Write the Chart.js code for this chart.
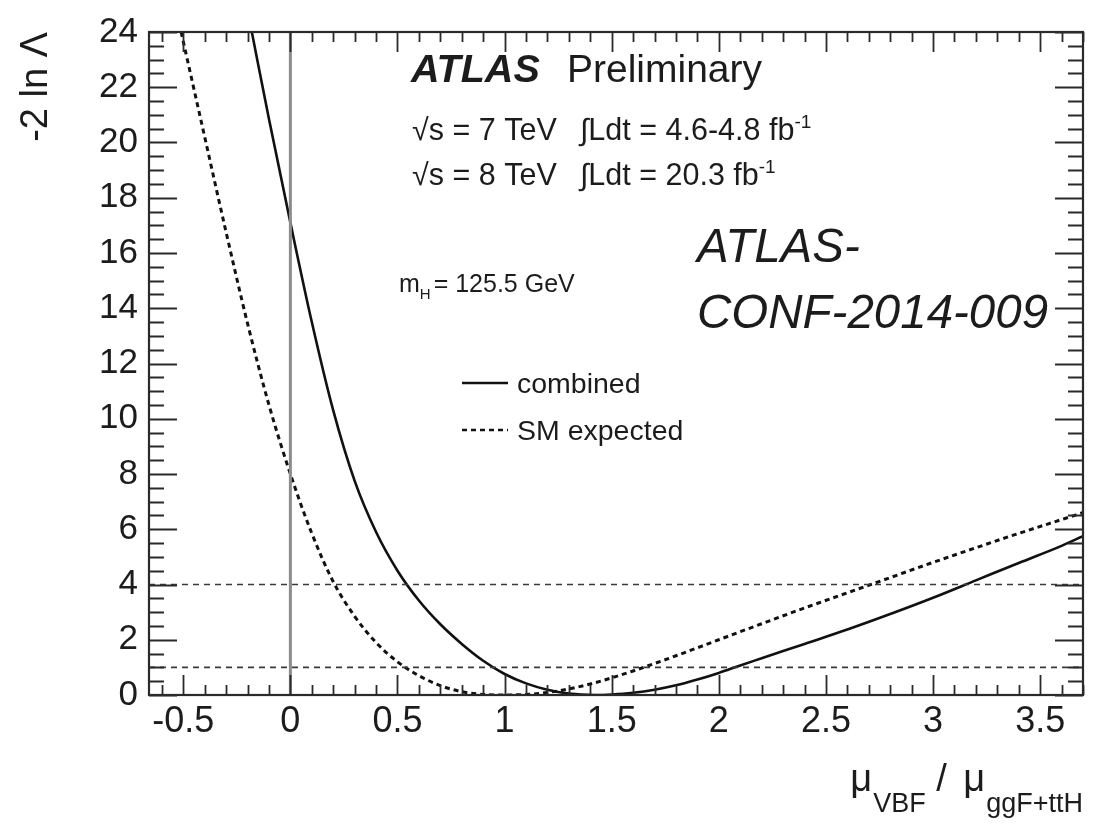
<!DOCTYPE html>
<html>
<head>
<meta charset="utf-8">
<title>mu_VBF / mu_ggF+ttH likelihood scan</title>
<script src="https://cdn.jsdelivr.net/npm/chart.js@4.4.1/dist/chart.umd.min.js"></script>
<style>
  html, body { margin: 0; padding: 0; background: #fff; }
  #wrap { width: 1093px; height: 840px; }
</style>
</head>
<body>
<div id="wrap"><canvas id="scan" width="1093" height="840"></canvas></div>
<script>
// observed (combined) scan of -2 ln Lambda vs mu_VBF / mu_ggF+ttH
var muObs  = [-0.18, -0.1, 0.0, 0.1, 0.2, 0.3, 0.4, 0.5, 0.6, 0.7, 0.8, 0.9, 1.0, 1.1, 1.2, 1.3, 1.42, 1.5, 1.6, 1.7, 1.8, 1.9, 2.0, 2.1, 2.2, 2.4, 2.6, 2.8, 3.0, 3.2, 3.4, 3.6, 3.7];
var nllObs = [24.0, 20.85, 17.1, 13.5, 10.3, 7.75, 5.9, 4.5, 3.42, 2.56, 1.85, 1.24, 0.76, 0.42, 0.19, 0.05, 0.0, 0.02, 0.08, 0.19, 0.35, 0.56, 0.8, 1.07, 1.33, 1.85, 2.37, 2.93, 3.52, 4.15, 4.78, 5.4, 5.75];

// SM expected scan
var muExp  = [-0.51, -0.4, -0.3, -0.2, -0.1, 0.0, 0.1, 0.2, 0.3, 0.4, 0.5, 0.6, 0.7, 0.8, 0.9, 1.0, 1.1, 1.2, 1.3, 1.4, 1.5, 1.6, 1.7, 1.8, 1.9, 2.0, 2.2, 2.4, 2.6, 2.8, 3.0, 3.2, 3.4, 3.6, 3.7];
var nllExp = [24.0, 20.2, 16.75, 13.45, 10.5, 8.0, 5.85, 4.1, 2.85, 1.9, 1.2, 0.7, 0.34, 0.12, 0.02, 0.0, 0.02, 0.09, 0.22, 0.4, 0.62, 0.87, 1.14, 1.42, 1.71, 2.0, 2.58, 3.15, 3.7, 4.25, 4.8, 5.33, 5.85, 6.35, 6.6];

// horizontal reference levels (1 and 2 sigma) and the mu = 0 marker
var refLevels = [1, 4];
var zeroLine = 0;

// axis ranges
var xRange = [-0.66, 3.7];
var yRange = [0, 24];

var FONT = '"Liberation Sans", Arial, Helvetica, sans-serif';
var INK = '#1c1c1c';

function toPoints(xs, ys) {
  return xs.map(function (x, i) { return { x: x, y: ys[i] }; });
}

var datasets = [
  {
    label: 'mu0',
    data: [{ x: zeroLine, y: yRange[0] }, { x: zeroLine, y: yRange[1] }],
    borderColor: '#8c8c8c', borderWidth: 3, pointRadius: 0, showLine: true
  }
];
refLevels.forEach(function (lvl) {
  datasets.push({
    label: 'level ' + lvl,
    data: [{ x: xRange[0], y: lvl }, { x: xRange[1], y: lvl }],
    borderColor: '#3a3a3a', borderWidth: 1.6, borderDash: [6, 5],
    pointRadius: 0, showLine: true
  });
});
datasets.push({
  label: 'SM expected',
  data: toPoints(muExp, nllExp),
  borderColor: '#111', borderWidth: 3, borderDash: [5, 4],
  pointRadius: 0, showLine: true, cubicInterpolationMode: 'monotone'
});
datasets.push({
  label: 'combined',
  data: toPoints(muObs, nllObs),
  borderColor: '#111', borderWidth: 2.6,
  pointRadius: 0, showLine: true, cubicInterpolationMode: 'monotone'
});

// draw a list of text pieces one after the other on a shared baseline
function drawRuns(ctx, x, y, runs) {
  runs.forEach(function (r) {
    ctx.font = (r.style || '') + ' ' + r.size + 'px ' + FONT;
    ctx.fillText(r.text, x, y + (r.dy || 0));
    x += ctx.measureText(r.text).width + (r.gap || 0);
  });
  return x;
}
function runsWidth(ctx, runs) {
  var w = 0;
  runs.forEach(function (r) {
    ctx.font = (r.style || '') + ' ' + r.size + 'px ' + FONT;
    w += ctx.measureText(r.text).width + (r.gap || 0);
  });
  return w;
}

// frame with inward ticks on all four sides
var framePlugin = {
  id: 'frameTicks',
  afterDatasetsDraw: function (chart) {
    var ctx = chart.ctx, a = chart.chartArea;
    var xs = chart.scales.x, ys = chart.scales.y;
    ctx.save();
    ctx.strokeStyle = '#2a2a2a';
    ctx.lineWidth = 1.8;
    var i, v, px, len;
    for (i = Math.ceil(xRange[0] * 10); i <= Math.floor(xRange[1] * 10); i++) {
      v = i / 10;
      px = Math.round(xs.getPixelForValue(v)) + 0.5;
      len = (i % 5 === 0) ? 20 : 10;
      ctx.beginPath();
      ctx.moveTo(px, a.bottom); ctx.lineTo(px, a.bottom - len);
      ctx.moveTo(px, a.top); ctx.lineTo(px, a.top + len);
      ctx.stroke();
    }
    for (i = yRange[0] * 2; i <= yRange[1] * 2; i++) {
      v = i / 2;
      px = Math.round(ys.getPixelForValue(v)) + 0.5;
      len = (i % 4 === 0) ? 28 : 15;
      ctx.beginPath();
      ctx.moveTo(a.left, px); ctx.lineTo(a.left + len, px);
      ctx.moveTo(a.right, px); ctx.lineTo(a.right - len, px);
      ctx.stroke();
    }
    ctx.lineWidth = 2.2;
    ctx.strokeRect(a.left, a.top, a.right - a.left, a.bottom - a.top);
    ctx.restore();
  }
};

// labels inside the frame, legend and the x axis title
var textPlugin = {
  id: 'plotText',
  afterDraw: function (chart) {
    var ctx = chart.ctx;
    ctx.save();
    ctx.fillStyle = INK;
    ctx.textAlign = 'left';
    ctx.textBaseline = 'alphabetic';

    drawRuns(ctx, 411, 82, [{ text: 'ATLAS', size: 39.5, style: 'italic bold' }]);
    drawRuns(ctx, 567, 82, [{ text: 'Preliminary', size: 39 }]);

    drawRuns(ctx, 412, 140, [{ text: '\u221As = 7 TeV', size: 30.5 }]);
    drawRuns(ctx, 580, 140, [
      { text: '\u222BLdt = 4.6-4.8 fb', size: 30.5 },
      { text: '-1', size: 19, dy: -12 }
    ]);
    drawRuns(ctx, 412, 185, [{ text: '\u221As = 8 TeV', size: 30.5 }]);
    drawRuns(ctx, 580, 185, [
      { text: '\u222BLdt = 20.3 fb', size: 30.5 },
      { text: '-1', size: 19, dy: -12 }
    ]);

    drawRuns(ctx, 399, 292, [
      { text: 'm', size: 25 },
      { text: 'H', size: 15, dy: 7, gap: 3 },
      { text: '= 125.5 GeV', size: 25 }
    ]);

    drawRuns(ctx, 697, 262, [{ text: 'ATLAS-', size: 47.5, style: 'italic' }]);
    drawRuns(ctx, 697, 328, [{ text: 'CONF-2014-009', size: 47.5, style: 'italic' }]);

    // legend entries use the dataset line styles
    var legendRows = [
      { ds: datasets[datasets.length - 1], y: 383 },
      { ds: datasets[datasets.length - 2], y: 430 }
    ];
    legendRows.forEach(function (row) {
      ctx.save();
      ctx.strokeStyle = row.ds.borderColor;
      ctx.lineWidth = 2.4;
      ctx.setLineDash(row.ds.borderDash || []);
      ctx.beginPath();
      ctx.moveTo(462, row.y); ctx.lineTo(508, row.y);
      ctx.stroke();
      ctx.restore();
      drawRuns(ctx, 517, row.y + 10, [{ text: row.ds.label, size: 28.5 }]);
    });

    // x axis title, right aligned to the frame
    var title = [
      { text: '\u03BC', size: 38, gap: 1 },
      { text: 'VBF', size: 27, dy: 21 },
      { text: ' / ', size: 38, gap: 6 },
      { text: '\u03BC', size: 38, gap: 1 },
      { text: 'ggF+ttH', size: 27, dy: 21 }
    ];
    var right = chart.chartArea.right;
    drawRuns(ctx, right - runsWidth(ctx, title), 791, title);
    ctx.restore();
  }
};

new Chart(document.getElementById('scan'), {
  type: 'scatter',
  data: { datasets: datasets },
  options: {
    responsive: false,
    animation: false,
    events: [],
    layout: { padding: { left: 0, right: 10, top: 23, bottom: 0 } },
    plugins: { legend: { display: false }, tooltip: { enabled: false } },
    scales: {
      x: {
        type: 'linear',
        min: xRange[0], max: xRange[1],
        grid: { display: false, drawTicks: false },
        border: { display: false },
        ticks: {
          stepSize: 0.5, includeBounds: false, autoSkip: false, maxRotation: 0,
          padding: 5, color: INK, font: { family: FONT, size: 36 },
          callback: function (v) { return String(Math.round(v * 10) / 10); }
        },
        afterFit: function (s) { s.height = 145; }
      },
      y: {
        type: 'linear',
        min: yRange[0], max: yRange[1],
        grid: { display: false, drawTicks: false },
        border: { display: false },
        ticks: {
          stepSize: 2, autoSkip: false, padding: 11, color: INK,
          font: { family: FONT, size: 35 }
        },
        title: {
          display: true, text: '-2 ln \u039B', align: 'end', color: INK,
          font: { family: FONT, size: 38 },
          padding: { top: 14, bottom: 0 }
        },
        afterFit: function (s) { s.width = 149; }
      }
    }
  },
  plugins: [framePlugin, textPlugin]
});
</script>
</body>
</html>
